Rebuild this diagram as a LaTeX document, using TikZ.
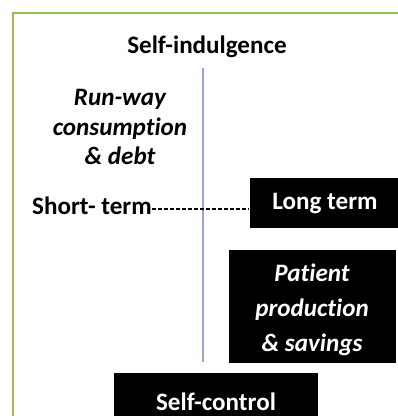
\documentclass[tikz,border=0pt]{standalone}
\usepackage{fontspec}
\setmainfont[Ligatures=NoCommon]{Carlito}
\usetikzlibrary{positioning}

\tikzset{
	caption/.style={font=\fontsize{25}{29}\selectfont\bfseries, inner sep=0pt, align=center},
	blackbox/.style={fill=black, text=white, font=\fontsize{25}{35}\selectfont\bfseries, inner sep=0pt, align=center},
}

\begin{document}
\begin{tikzpicture}[x=0.035cm, y=-0.035cm]
		\clip (0,0) rectangle (398,416);
		\fill[white] (0,0) rectangle (398,416);

		% frame
		\draw[color={rgb,255:red,155;green,187;blue,89}, line width=1.5pt] (420,13) -- (13,13) -- (13,440);

		\node[caption] (indulge) at (207,47) {Self-indulgence};

		\coordinate (axistop) at (203,68);
		\coordinate (axisbot) at (203,362);
		\draw[color={rgb,255:red,150;green,165;blue,200}, line width=1.5pt] (axistop) -- (axisbot);

		\node[caption] (runway) at (120,127) {\itshape Run-way\\ \itshape consumption\\ \itshape \& debt};

		\node[caption, anchor=east] (short) at (152,206) {Short- term};

		\node[blackbox, minimum width=150, minimum height=50] (long) at (325,203) {Long term};

		\node[blackbox, minimum width=167, minimum height=113] (patient) at (312.5,306.5) {};
		\node[blackbox, fill=none] (patienttext) at (312,310) {\itshape Patient\\ \itshape production\\ \itshape \& savings};

		\node[blackbox, minimum width=204, minimum height=57] (control) at (216,401.5) {Self-control};

		\draw[dash pattern=on 4pt off 2pt, line width=1.2pt] ([yshift=-3]short.east) -- ([yshift=-3]short.east -| long.west);
	\end{tikzpicture}
\end{document}
